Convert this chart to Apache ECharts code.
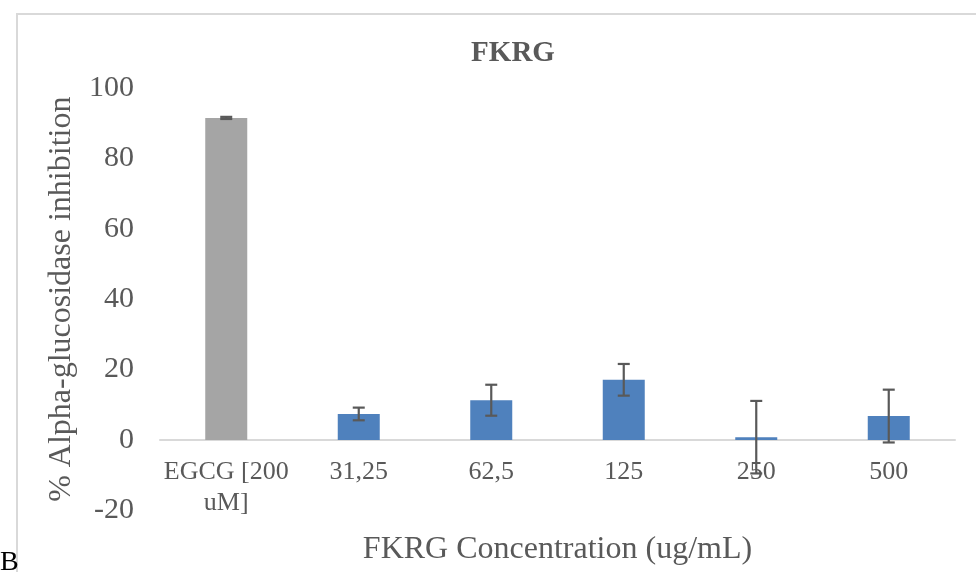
<!DOCTYPE html>
<html>
<head>
<meta charset="utf-8">
<script src="https://cdn.jsdelivr.net/npm/echarts@6/dist/echarts.min.js"></script>
<style>
html,body{margin:0;padding:0;background:#fff;}
#c{width:976px;height:572px;}
</style>
</head>
<body>
<div id="c"></div>
<script>
var categories = ['EGCG [200\nuM]', '31,25', '62,5', '125', '250', '500'];
var inhibition = [91.5, 7.4, 11.3, 17.1, 0.8, 6.8];
var errors = [0.3, 1.8, 4.4, 4.5, 10.3, 7.5];
var barColors = ['#A5A5A5', '#4F81BD', '#4F81BD', '#4F81BD', '#4F81BD', '#4F81BD'];
var yTicks = [-20, 0, 20, 40, 60, 80, 100];

var FONT = 'Liberation Serif';
var TXT = '#595959';

var GRID_TOP = 88, GRID_BOTTOM = 61.6, H = 572;
var plotH = H - GRID_TOP - GRID_BOTTOM;
var zeroOffset = plotH * (0 - yTicks[0]) / (yTicks[yTicks.length - 1] - yTicks[0]);

var barData = inhibition.map(function (v, i) {
  return { value: v, itemStyle: { color: barColors[i] } };
});
var errData = inhibition.map(function (v, i) {
  return [i, v - errors[i], v + errors[i]];
});

var chart = echarts.init(document.getElementById('c'), null, { renderer: 'canvas' });
chart.setOption({
  animation: false,
  backgroundColor: '#ffffff',
  title: {
    text: 'FKRG',
    left: 508,
    top: 34,
    textAlign: 'center',
    textStyle: { fontFamily: FONT, fontSize: 29, fontWeight: 'bold', color: TXT }
  },
  grid: { left: 160, right: 21, top: GRID_TOP, bottom: GRID_BOTTOM, containLabel: false, outerBoundsMode: 'none' },
  xAxis: {
    type: 'category',
    data: categories,
    offset: -zeroOffset,
    axisLine: { onZero: false, lineStyle: { color: '#D9D9D9', width: 2 } },
    axisTick: { show: false },
    axisLabel: { fontFamily: FONT, fontSize: 26, color: TXT, margin: 17, lineHeight: 31, interval: 0 },
    name: 'FKRG Concentration (ug/mL)',
    nameLocation: 'middle',
    nameGap: 94,
    nameTextStyle: { fontFamily: FONT, fontSize: 32, color: TXT }
  },
  yAxis: {
    type: 'value',
    min: yTicks[0],
    max: yTicks[yTicks.length - 1],
    interval: 20,
    axisLine: { show: false },
    axisTick: { show: false },
    splitLine: { show: false },
    axisLabel: { fontFamily: FONT, fontSize: 30, color: TXT, margin: 26 },
    name: '% Alpha-glucosidase inhibition',
    nameLocation: 'middle',
    nameGap: 82,
    nameTextStyle: { fontFamily: FONT, fontSize: 32, color: TXT }
  },
  series: [
    {
      type: 'bar',
      data: barData,
      barWidth: 42
    },
    {
      type: 'custom',
      z: 5,
      data: errData,
      renderItem: function (params, api) {
        var x = api.value(0);
        var lo = api.coord([x, api.value(1)]);
        var hi = api.coord([x, api.value(2)]);
        var w = 6;
        var st = { stroke: '#595959', lineWidth: 2.2 };
        return {
          type: 'group',
          children: [
            { type: 'line', shape: { x1: hi[0], y1: hi[1], x2: lo[0], y2: lo[1] }, style: st },
            { type: 'line', shape: { x1: hi[0] - w, y1: hi[1], x2: hi[0] + w, y2: hi[1] }, style: st },
            { type: 'line', shape: { x1: lo[0] - w, y1: lo[1], x2: lo[0] + w, y2: lo[1] }, style: st }
          ]
        };
      }
    }
  ],
  graphic: [
    {
      type: 'polyline',
      shape: { points: [[17, 572], [17, 14], [976, 14]] },
      style: { stroke: '#D9D9D9', lineWidth: 2, fill: null },
      silent: true
    },
    {
      type: 'text',
      left: 0,
      top: 549,
      style: { text: 'B', fontFamily: FONT, fontSize: 28, fill: '#000000' }
    }
  ]
});
</script>
</body>
</html>
